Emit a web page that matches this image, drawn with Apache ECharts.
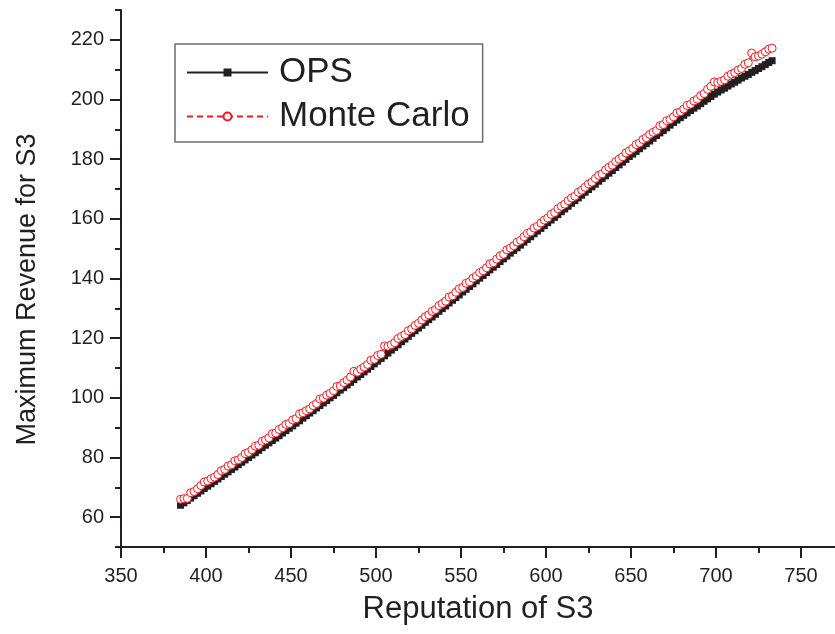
<!DOCTYPE html>
<html>
<head>
<meta charset="utf-8">
<script src="https://cdn.jsdelivr.net/npm/echarts@6/dist/echarts.min.js"></script>
<style>
html,body{margin:0;padding:0;background:#fff;}
#chart{width:835px;height:634px;}
</style>
</head>
<body>
<div id="chart"></div>
<script>
// Reputation of S3 (x values)
var reputation = [385,387,389,391,393,395,397,399,
401,403,405,407,409,411,413,415,417,419,421,423,425,427,429,431,433,435,437,439,441,443,445,447,449,
451,453,455,457,459,461,463,465,467,469,471,473,475,477,479,481,483,485,487,489,491,493,495,497,499,
501,503,505,507,509,511,513,515,517,519,521,523,525,527,529,531,533,535,537,539,541,543,545,547,549,
551,553,555,557,559,561,563,565,567,569,571,573,575,577,579,581,583,585,587,589,591,593,595,597,599,
601,603,605,607,609,611,613,615,617,619,621,623,625,627,629,631,633,635,637,639,641,643,645,647,649,
651,653,655,657,659,661,663,665,667,669,671,673,675,677,679,681,683,685,687,689,691,693,695,697,699,
701,703,705,707,709,711,713,715,717,719,721,723,725,727,729,731,733];

// OPS maximum revenue
var opsValues = [64.0,64.8,65.6,66.4,67.2,68.0,68.8,69.6,
70.4,71.2,72.0,72.8,73.6,74.4,75.2,76.0,76.8,77.6,78.4,79.2,80.0,80.8,81.6,82.4,83.3,84.1,84.9,85.7,86.5,87.3,88.2,89.0,89.8,
90.6,91.5,92.3,93.2,94.0,94.9,95.7,96.6,97.4,98.3,99.1,100.0,100.8,101.7,102.6,103.4,104.3,105.2,106.1,107.0,107.8,108.7,109.6,110.5,111.4,
112.3,113.2,114.1,115.0,116.0,116.9,117.8,118.8,119.7,120.6,121.6,122.5,123.4,124.3,125.3,126.2,127.1,128.0,129.0,129.9,130.8,131.8,132.7,133.6,134.5,
135.5,136.4,137.3,138.2,139.2,140.1,141.0,142.0,142.9,143.8,144.7,145.7,146.6,147.5,148.5,149.4,150.3,151.2,152.2,153.1,154.0,155.0,155.9,156.8,157.7,
158.7,159.6,160.5,161.4,162.4,163.3,164.2,165.2,166.1,167.0,167.9,168.9,169.8,170.7,171.6,172.6,173.5,174.4,175.3,176.2,177.2,178.1,179.0,179.9,180.9,
181.7,182.6,183.5,184.4,185.2,186.1,187.0,187.9,188.8,189.6,190.5,191.4,192.3,193.1,193.9,194.7,195.5,196.3,197.1,197.8,198.6,199.4,200.2,201.0,201.8,
202.5,203.2,203.8,204.5,205.2,205.8,206.5,207.2,207.8,208.4,209.1,209.7,210.4,211.0,211.7,212.4,213.0];

// Monte Carlo maximum revenue
var mcValues = [66.0,66.2,66.3,68.2,68.6,69.5,70.6,71.8,
72.1,72.9,73.4,74.3,75.6,76.0,77.1,77.6,78.9,79.2,80.0,81.3,81.7,82.6,83.8,84.1,85.4,85.9,86.6,88.0,88.2,89.4,90.0,91.1,91.4,
92.6,93.0,94.6,95.0,95.7,96.3,97.4,98.1,99.6,99.9,100.9,101.5,102.4,103.8,104.0,105.1,105.9,107.0,108.9,108.6,109.6,110.3,111.2,112.6,112.9,
114.2,114.6,117.4,117.3,117.8,118.5,119.9,120.6,121.2,122.5,123.1,124.3,125.0,126.1,127.2,127.8,129.0,129.6,130.9,131.6,132.4,133.8,134.2,135.4,136.6,
137.0,138.4,138.9,140.1,140.8,142.0,142.6,143.6,144.9,145.3,146.5,147.6,148.1,149.6,150.2,151.0,152.2,152.8,154.0,155.1,155.6,156.9,157.5,158.6,159.6,
160.3,161.5,162.1,163.4,164.2,164.9,166.1,167.0,167.6,168.9,169.6,170.6,171.7,172.3,173.5,174.6,175.1,176.4,177.3,178.0,179.2,180.0,180.8,182.1,182.8,
183.6,184.9,185.4,186.6,187.2,188.3,189.0,189.6,191.2,191.6,192.9,193.3,194.2,195.5,195.9,196.8,198.0,198.4,199.5,200.1,201.3,202.0,203.4,204.4,205.9,
205.7,206.1,206.6,207.8,208.5,209.0,209.9,210.4,211.8,212.3,215.6,214.3,214.6,215.2,216.0,216.9,217.2];

// Tick values
var xMajorTicks = [350,400,450,500,550,600,650,700,750];
var xMinorTicks = [375,425,475,525,575,625,675,725];
var yMajorTicks = [60,80,100,120,140,160,180,200,220];
var yMinorTicks = [50,70,90,110,130,150,170,190,210,230];

var seriesNames = ['OPS','Monte Carlo'];

var FONT = '"Liberation Sans", Arial, sans-serif';
var INK = '#231f20';
var RED = '#ed1c24';

function pairs(xs, ys){ return xs.map(function(x,i){ return [x, ys[i]]; }); }

var chart = echarts.init(document.getElementById('chart'), null, {renderer:'canvas'});
chart.setOption({
  animation: false,
  backgroundColor: '#ffffff',
  textStyle: {fontFamily: FONT, color: INK},
  grid: {left: 121, right: 0, top: 10, bottom: 87, containLabel: false},
  legend: {
    data: seriesNames,
    orient: 'vertical',
    left: 175, top: 44,
    itemWidth: 81, itemHeight: 10, itemGap: 9,
    padding: [11, 13, 8, 11],
    borderColor: '#6d6e71', borderWidth: 1.5,
    textStyle: {fontSize: 35, color: INK, fontFamily: FONT, lineHeight: 35, padding: [0, 0, 0, 6]}
  },
  xAxis: [{
    type: 'value', min: 350, max: 770,
    name: 'Reputation of S3', nameLocation: 'middle', nameGap: 47,
    nameTextStyle: {fontSize: 31, color: INK, fontFamily: FONT},
    axisLine: {show: true, onZero: false, lineStyle: {color: INK, width: 2}},
    axisTick: {show: true, customValues: xMajorTicks, length: 11, lineStyle: {color: INK, width: 2}},
    axisLabel: {show: true, customValues: xMajorTicks, margin: 19, fontSize: 20, color: INK, fontFamily: FONT},
    splitLine: {show: false}
  },{
    type: 'value', min: 350, max: 770, position: 'bottom',
    axisLine: {show: false},
    axisTick: {show: true, customValues: xMinorTicks, length: 6, lineStyle: {color: INK, width: 2}},
    axisLabel: {show: false},
    splitLine: {show: false}
  }],
  yAxis: [{
    type: 'value', min: 50, max: 230,
    name: 'Maximum Revenue for S3', nameLocation: 'middle', nameGap: 80,
    nameTextStyle: {fontSize: 27, color: INK, fontFamily: FONT, padding: [0, 22, 0, 0]},
    axisLine: {show: true, onZero: false, lineStyle: {color: INK, width: 2}},
    axisTick: {show: true, customValues: yMajorTicks, length: 11, lineStyle: {color: INK, width: 2}},
    axisLabel: {show: true, customValues: yMajorTicks, margin: 17, fontSize: 20, color: INK, fontFamily: FONT},
    splitLine: {show: false}
  },{
    type: 'value', min: 50, max: 230, position: 'left',
    axisLine: {show: false},
    axisTick: {show: true, customValues: yMinorTicks, length: 6, lineStyle: {color: INK, width: 2}},
    axisLabel: {show: false},
    splitLine: {show: false}
  }],
  series: [{
    name: seriesNames[0], type: 'line',
    xAxisIndex: 0, yAxisIndex: 0,
    data: pairs(reputation, opsValues),
    symbol: 'rect', symbolSize: 7, showAllSymbol: true,
    lineStyle: {color: INK, width: 1.5},
    itemStyle: {color: INK, borderColor: INK, borderWidth: 0},
    z: 2
  },{
    name: seriesNames[1], type: 'line',
    xAxisIndex: 0, yAxisIndex: 0,
    data: pairs(reputation, mcValues),
    symbol: 'circle', symbolSize: 8, showAllSymbol: true,
    lineStyle: {color: RED, width: 1.2, type: [6, 4]},
    itemStyle: {color: '#ffffff', borderColor: RED, borderWidth: 1},
    z: 3
  }]
});
</script>
</body>
</html>
